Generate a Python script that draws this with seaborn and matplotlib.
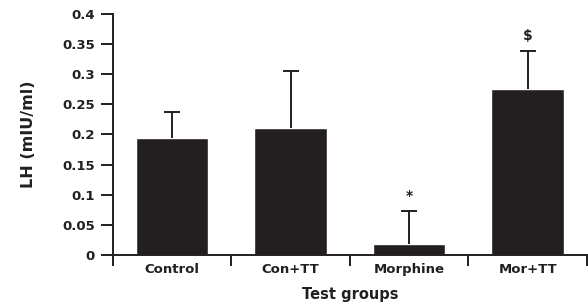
import numpy as np
import matplotlib
matplotlib.use('Agg')
import matplotlib.pyplot as plt
import seaborn as sns

# ── DATA ──
groups = ['Control', 'Con+TT', 'Morphine', 'Mor+TT']
means = [0.194, 0.211, 0.018, 0.275]
errs = [0.043, 0.094, 0.055, 0.064]
marks = ['', '', '*', '$']
yticks = [0, 0.05, 0.1, 0.15, 0.2, 0.25, 0.3, 0.35, 0.4]

INK = '#231f20'

sns.set_style('ticks')
plt.rcParams['font.family'] = ['DejaVu Sans']
plt.rcParams['font.weight'] = 'bold'

fig = plt.figure(figsize=(5.88, 3.08), dpi=100)
ax = fig.add_axes([0.192, 0.172, 0.806, 0.783])

sns.barplot(x=groups, y=means, color=INK, saturation=1, width=0.61, ax=ax)
_, caps, _ = ax.errorbar(range(len(groups)), means,
                         yerr=[np.zeros(len(errs)), errs],
                         fmt='none', ecolor=INK, elinewidth=1.4,
                         capsize=6, capthick=1.4)
caps[0].set_visible(False)  # no cap at the bar top

for i, (m, e, s) in enumerate(zip(means, errs, marks)):
    if s:
        ax.text(i, m + e + 0.013, s, ha='center', va='bottom',
                fontsize=10, fontweight='bold', color=INK)

ax.set_xlim(-0.5, 3.5)
ax.set_ylim(0, 0.4)
ax.set_yticks(yticks)
ax.set_yticklabels(['0' if v == 0 else f'{v:g}' for v in yticks])
ax.set_xticks(range(len(groups)))
ax.set_xticks(np.arange(-0.5, 4, 1), minor=True)
ax.tick_params(axis='x', which='major', length=0, pad=6)
ax.tick_params(axis='x', which='minor', length=8, width=1.4, color=INK, direction='out')
ax.tick_params(axis='y', length=9, width=1.4, color=INK, pad=4)
for lab in ax.get_xticklabels() + ax.get_yticklabels():
    lab.set_fontweight('bold')
    lab.set_fontsize(9.5)
    lab.set_color(INK)

ax.set_xlabel('Test groups', fontsize=10.5, fontweight='bold', color=INK, labelpad=8)
ax.set_ylabel('LH (mIU/ml)', fontsize=11.5, fontweight='bold', color=INK, labelpad=19)

sns.despine(ax=ax)
for sp in ['left', 'bottom']:
    ax.spines[sp].set_linewidth(1.4)
    ax.spines[sp].set_color(INK)

fig.savefig('out.png', dpi=100, facecolor='white')
